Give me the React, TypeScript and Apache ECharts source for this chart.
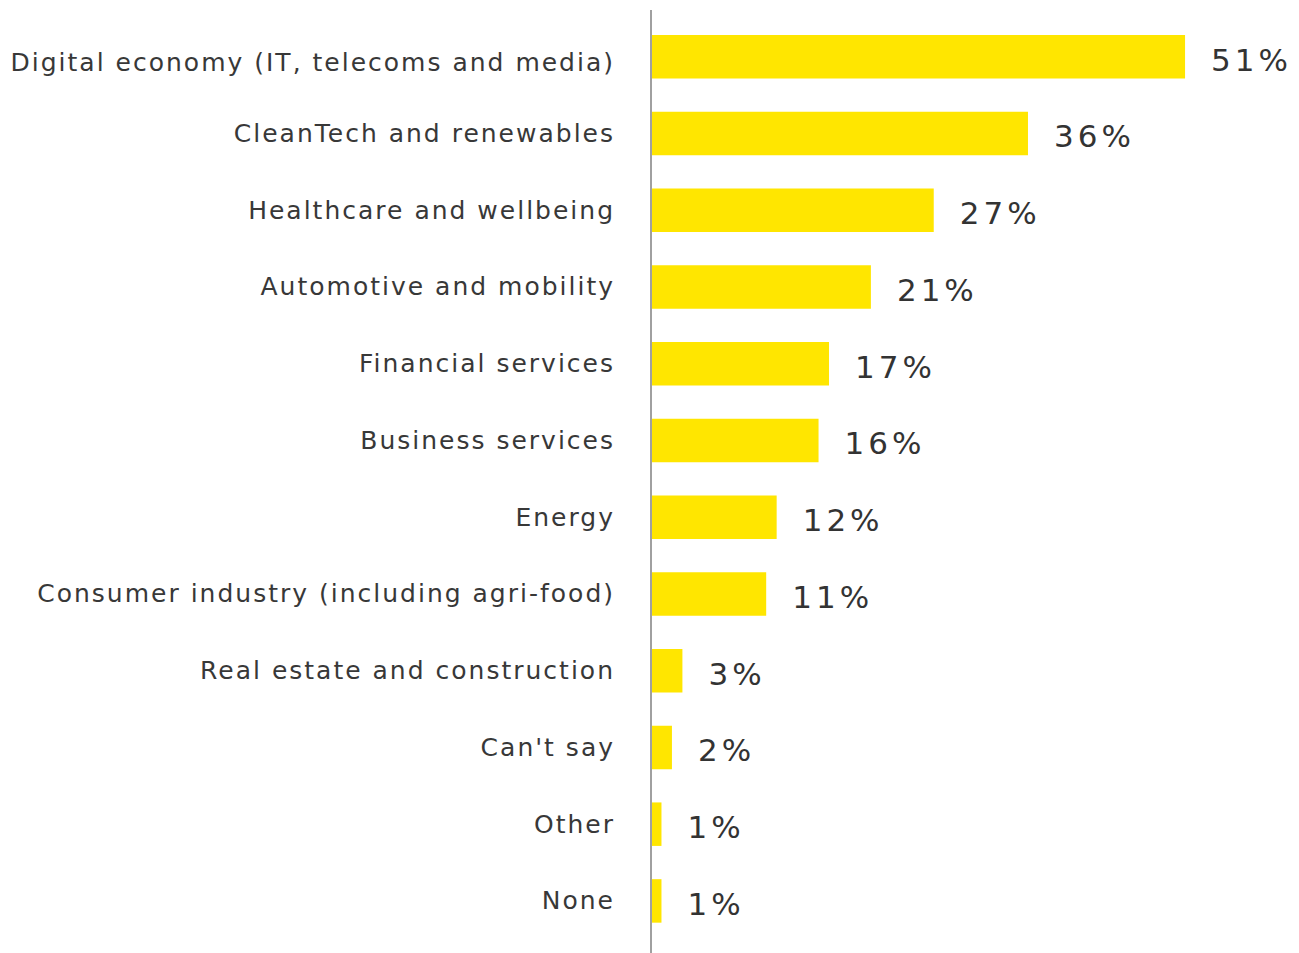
import React, { useEffect, useRef } from "react";
import * as echarts from "echarts";

const categories = [
  "Digital economy (IT, telecoms and media)",
  "CleanTech and renewables",
  "Healthcare and wellbeing",
  "Automotive and mobility",
  "Financial services",
  "Business services",
  "Energy",
  "Consumer industry (including agri-food)",
  "Real estate and construction",
  "Can't say",
  "Other",
  "None",
];
const values = [51, 36, 27, 21, 17, 16, 12, 11, 3, 2, 1, 1];

const css = `
#root svg text[style*="25px"] { letter-spacing: 2px; }
#root svg text[style*="31px"] { letter-spacing: 4px; }
`;

export default function App() {
  const ref = useRef<HTMLDivElement>(null);
  useEffect(() => {
    if (!ref.current) return;
    const chart = echarts.init(ref.current, null, { renderer: "svg" });
    const labelFont = { color: "#383838", fontFamily: "DejaVu Sans", fontSize: 25 };
    chart.setOption({
      animation: false,
      backgroundColor: "#ffffff",
      grid: { left: 651, top: 18.3, width: 628.3, height: 921, containLabel: false },
      xAxis: {
        type: "value",
        min: 0,
        max: 60,
        show: false,
      },
      yAxis: {
        type: "category",
        data: categories,
        inverse: true,
        axisLine: { show: false },
        axisTick: { show: false },
        axisLabel: {
          margin: 36,
          ...labelFont,
          formatter: (v: string, i: number) => (i === 0 ? `{a|${v}}` : v),
          rich: { a: { ...labelFont, padding: [11, 0, 0, 0] } },
        },
      },
      graphic: [
        {
          type: "line",
          shape: { x1: 651, y1: 10, x2: 651, y2: 953 },
          style: { stroke: "#a0a0a0", lineWidth: 2 },
          z: 10,
        },
      ],
      series: [
        {
          type: "bar",
          data: values,
          barWidth: 43.5,
          itemStyle: { color: "#FFE600" },
          label: {
            show: true,
            position: "right",
            distance: 26,
            offset: [0, 3],
            formatter: "{c}%",
            color: "#333333",
            fontFamily: "DejaVu Sans",
            fontSize: 31,
          },
        },
      ],
    });
    return () => chart.dispose();
  }, []);
  return (
    <>
      <style>{css}</style>
      <div
        ref={ref}
        style={{ position: "absolute", left: 0, top: 0, width: 1299, height: 953 }}
      />
    </>
  );
}
